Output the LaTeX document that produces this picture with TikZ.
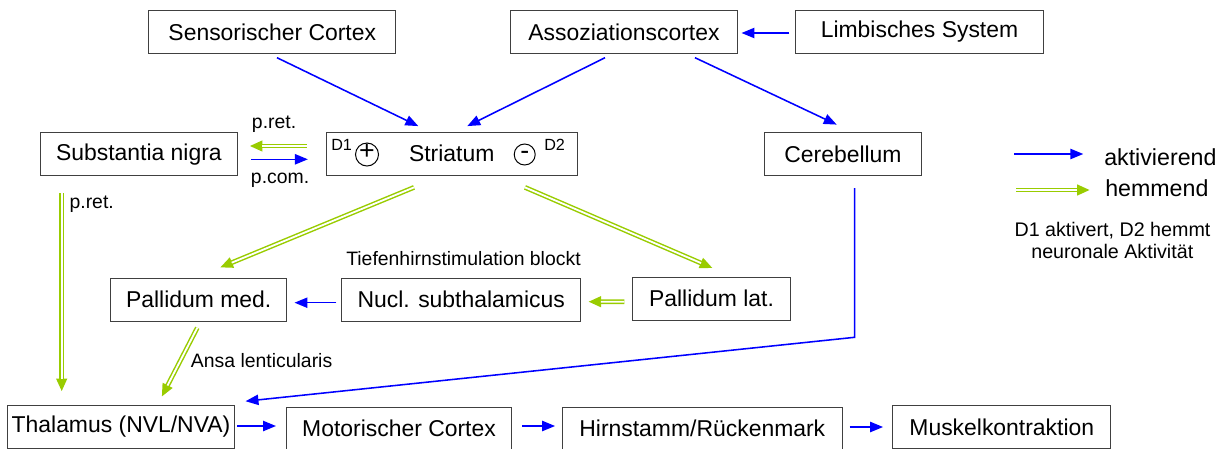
\documentclass[tikz,border=0pt]{standalone}
\usepackage{fontspec}
\setmainfont{Liberation Sans}
\usetikzlibrary{arrows.meta, calc}
\definecolor{hemmgreen}{RGB}{153,204,0}
\definecolor{aktivblue}{RGB}{0,0,255}
\definecolor{rahmen}{RGB}{64,64,64}
\tikzset{box/.style={draw=rahmen,line width=0.7pt,rectangle,minimum height=1.075cm,inner sep=0pt,font=\fontsize{16.3}{19}\selectfont}}

\begin{document}
\begin{tikzpicture}[
        x=0.025cm, y=-0.025cm,
        >={Triangle[length=9.2pt, width=7.3pt]},
        aktiv/.style={
            ->,
            draw=aktivblue,
            line width=1.1pt,
        },
        hemm/.style={
            ->,
            draw=hemmgreen,
            line width=3.4pt,
            postaction={draw=white, line width=1.3pt, -, shorten >=9pt},
        },
        mylabel/.style={
            font=\fontsize{13.8}{16}\selectfont,
            anchor=base west,
            inner sep=0pt,
        },
        legtext/.style={
            font=\fontsize{16.5}{19}\selectfont,
            anchor=base west,
            inner sep=0pt,
        },
        legnote/.style={
            font=\fontsize{14}{17}\selectfont,
            anchor=base,
            inner sep=0pt,
        },
        dlabel/.style={
            font=\fontsize{11.5}{13}\selectfont,
            anchor=base west,
            inner sep=0pt,
        },
        sign/.style={
            circle,
            draw=black,
            line width=0.7pt,
            inner sep=0pt,
            font=\fontsize{19}{19}\selectfont,
            text height=0.7em,
            text depth=0pt,
        },
    ]
    \useasboundingbox (0,0) rectangle (1224,448);
    \clip (0,0) rectangle (1224,448);

    % Boxes, top row
    \node [box, minimum width=6.17cm] (sens) at (272.3,32) {Sensorischer Cortex};
    \node [box, minimum width=5.65cm] (assoz) at (624,32) {Assoziationscortex};
    \node [box, minimum width=6.175cm] (limb) at (919.5,32) {Limbisches System};

    % Second row
    \node [box, minimum width=4.94cm] (snigra) at (138.9,154.3) {Substantia nigra};
    \node [box, minimum width=6.28cm] (striatum) at (451.7,153.7) {Striatum};
    \node [box, minimum width=3.935cm] (cereb) at (843,154.3) {Cerebellum};

    % Receptors inside the striatum
    \node [sign, minimum size=0.575cm] (plus) at (367,154.5) {+};
    \node [sign, minimum size=0.525cm] (minus) at (524.7,154.5) {-};
    \node [dlabel] (d1) at (331,150) {D1};
    \node [dlabel] (d2) at (544,150) {D2};

    % Third row
    \node [box, minimum width=4.4cm] (pmed) at (198.7,299.5) {Pallidum med.};
    \node [box, minimum width=5.975cm] (nst) at (461.2,299.5) {Nucl. subthalamicus};
    \node [box, minimum width=3.925cm] (plat) at (711.5,298.8) {Pallidum lat.};

    % Bottom row
    \node [box, minimum width=5.65cm] (thal) at (121,426.5) {Thalamus (NVL/NVA)};
    \node [box, minimum width=5.625cm] (motor) at (399,428.8) {Motorischer Cortex};
    \node [box, minimum width=6.99cm] (hirn) at (702.3,428.8) {Hirnstamm/Rückenmark};
    \node [box, minimum width=5.45cm] (muskel) at (1001.8,427.2) {Muskelkontraktion};

    % Labels
    \node [mylabel] (pret1) at (251.7,128) {p.ret.};
    \node [mylabel] (pcom) at (250.7,183.5) {p.com.};
    \node [mylabel] (pret2) at (69.3,208.3) {p.ret.};
    \node [mylabel] (ths) at (346,265.7) {Tiefenhirnstimulation blockt};
    \node [mylabel] (ansa) at (190.7,367.7) {Ansa lenticularis};

    % Activating connections
    \draw [aktiv] ($(sens.south)+(4.7,3.7)$) -- ($(striatum.north)+(-33.4,-5.6)$);
    \draw [aktiv] ($(assoz.south)+(-19,3.7)$) -- ($(striatum.north)+(15.6,-5.6)$);
    \draw [aktiv] ($(limb.west)+(-6,1)$) -- ($(assoz.east)+(4,1)$);
    \draw [aktiv] ($(assoz.south)+(71,3.7)$) -- ($(cereb.north)+(-6.3,-7.7)$);
    \draw [aktiv] ($(snigra.east)+(13,5)$) -- ($(striatum.west)+(-17.7,5.6)$);
    \draw [aktiv] ($(nst.west)+(-4.7,3.2)$) -- ($(pmed.east)+(7.3,3.2)$);
    \coordinate (knick) at (854.7,337.3);
    \draw [aktiv] ($(cereb.south)+(11.7,11.7)$) -- (knick) -- ($(thal.north east)+(11,-3.3)$);
    \draw [aktiv] ($(thal.east)+(2.8,-0.5)$) -- ($(motor.west)+(-10,-2.8)$);
    \draw [aktiv] ($(motor.east)+(10.3,-2.8)$) -- ($(hirn.west)+(-6.9,-2.8)$);
    \draw [aktiv] ($(hirn.east)+(7,-1.8)$) -- ($(muskel.west)+(-9.2,-0.2)$);

    % Inhibiting connections
    \draw [hemm] ($(striatum.west)+(-19,-7.7)$) -- ($(snigra.east)+(11.3,-8.3)$);
    \draw [hemm] ($(snigra.south)+(-77.2,17)$) -- ($(thal.north)+(-59.3,-13)$);
    \draw [hemm] ($(striatum.south)+(-37.7,11.7)$) -- ($(pmed.north)+(21.3,-10)$);
    \draw [hemm] ($(striatum.south)+(73.3,11.7)$) -- ($(plat.north)+(1.2,-8.7)$);
    \draw [hemm] ($(plat.west)+(-8,2.9)$) -- ($(nst.east)+(7,2.2)$);
    \draw [hemm] ($(pmed.south)+(-1.4,6.3)$) -- ($(thal.north)+(40.7,-7.7)$);

    % Legend
    \coordinate (la1) at (1014.3,154);
    \coordinate (la2) at (1083.3,154);
    \coordinate (lh1) at (1016,190);
    \coordinate (lh2) at (1090,190);
    \draw [aktiv] (la1) -- (la2);
    \draw [hemm] (lh1) -- (lh2);
    \node [legtext] (lakt) at (1104,165) {aktivierend};
    \node [legtext] (lhem) at (1105,196.7) {hemmend};
    \node [legnote] (note1) at (1112.5,236) {D1 aktivert, D2 hemmt};
    \node [legnote] (note2) at (1112.3,258.3) {neuronale Aktivität};

\end{tikzpicture}
\end{document}
